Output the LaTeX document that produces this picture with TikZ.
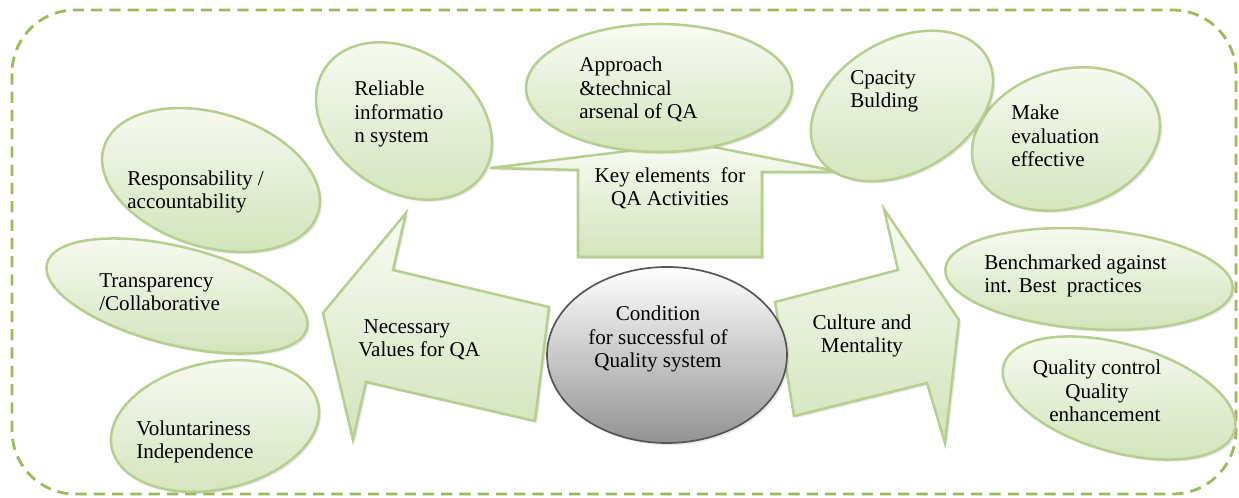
\documentclass[tikz,border=0pt]{standalone}
\usepackage{fontspec}
\setmainfont{Liberation Serif}
\usetikzlibrary{shapes.geometric,shadows}

\definecolor{dashgreen}{RGB}{155,187,89}
\definecolor{bubbleline}{RGB}{182,206,143}
\definecolor{bubbletop}{RGB}{248,251,243}
\definecolor{bubblebot}{RGB}{211,228,187}
\definecolor{condline}{RGB}{85,85,85}

\newdimen\px \px=0.025cm

\tikzset{
  frame/.style={dashgreen, line width=2pt, dash pattern=on 8pt off 5pt, rounded corners=45pt},
  bubble/.style={ellipse, draw=bubbleline, line width=1.8pt, top color=bubbletop, bottom color=bubblebot, inner sep=0pt,
    drop shadow={opacity=0.18, shadow xshift=1.5pt, shadow yshift=-1.5pt}},
  callout/.style={draw=bubbleline, line width=1.8pt, top color=bubbletop, bottom color=bubblebot,
    drop shadow={opacity=0.18, shadow xshift=1.5pt, shadow yshift=-1.5pt}},
  cond/.style={ellipse, draw=condline, line width=1.2pt, top color=white, bottom color=gray!85, inner sep=0pt,
    drop shadow={opacity=0.18, shadow xshift=1.5pt, shadow yshift=-1.5pt}},
  txt/.style={align=left, inner sep=0pt, anchor=base west, font=\fontsize{15}{17}\selectfont},
  ctxt/.style={txt, align=center, anchor=base},
}

\begin{document}
\begin{tikzpicture}[x=0.025cm, y=-0.025cm]
    \useasboundingbox (0,0) rectangle (1239,498);

    \draw[frame] (12,10) rectangle (1236,494);

    % key elements callout (head behind the top bubble)
    \draw[callout] (578,257) -- (578,170) -- (490,168) -- (693,143) -- (841,172) -- (762,172) -- (762,257) -- cycle;

    % bubbles on the left
    \node[bubble, minimum width=268\px, minimum height=98\px, rotate=-14] (tran) at (177,296) {};
    \node[bubble, minimum width=224\px, minimum height=134\px, rotate=-17] (resp) at (211,180) {};
    \node[bubble, minimum width=211\px, minimum height=127\px, rotate=12] (volu) at (215,426) {};

    % bubbles on top
    \node[bubble, minimum width=190\px, minimum height=140\px, rotate=-34] (reli) at (404,121) {};
    \node[bubble, minimum width=266\px, minimum height=128\px] (appr) at (659,88) {};
    \node[bubble, minimum width=192\px, minimum height=138\px, rotate=17] (eval) at (1066,139) {};
    \node[bubble, minimum width=196\px, minimum height=132\px, rotate=30] (capa) at (902,106) {};

    % bubbles on the right
    \node[bubble, minimum width=240\px, minimum height=108\px, rotate=-16] (qual) at (1119,398) {};
    \node[bubble, minimum width=288\px, minimum height=100\px, rotate=-4] (bench) at (1089,279) {};

    % left and right arrows
    \draw[callout] (323,313) -- (406,213) -- (393,270) -- (549,307) -- (535,421) -- (366,382) -- (353,440) -- cycle;
    \draw[callout] (959,320) -- (884,209) -- (898,270) -- (775,302) -- (794,416) -- (927,383) -- (945,443) -- cycle;

    % centre
    \node[cond, minimum width=240\px, minimum height=176\px] (cond) at (667,355) {};

    % texts (placed at the baseline of their last line)
    \node[txt] (resptxt) at (127,209) {Responsability /\\accountability};
    \node[txt] (trantxt) at (99,311) {Transparency\\/Collaborative};
    \node[txt] (volutxt) at (136,459) {Voluntariness\\Independence};
    \node[txt] (relitxt) at (354,143) {Reliable\\informatio\\n system};
    \node[txt] (apprtxt) at (579,119) {Approach\\\&technical\\arsenal of QA};
    \node[txt] (capatxt) at (850,108) {Cpacity\\Bulding};
    \node[txt] (evaltxt) at (1011,167) {Make\\evaluation\\effective};
    \node[ctxt] (keytxt) at (670,206) {Key elements\ \ for\\QA Activities};
    \node[txt] (necetxt) at (358,357) {\ Necessary\\Values for QA};
    \node[ctxt] (condtxt) at (658,368) {Condition\\for successful of\\Quality system};
    \node[ctxt] (culttxt) at (862,353) {Culture and\\Mentality};
    \node[txt] (benchtxt) at (984,293) {Benchmarked against\\int. Best\ \ practices};
    \node[ctxt] (qualtxt) at (1097,422) {Quality control\\Quality\\\ \ \ enhancement};
\end{tikzpicture}
\end{document}
